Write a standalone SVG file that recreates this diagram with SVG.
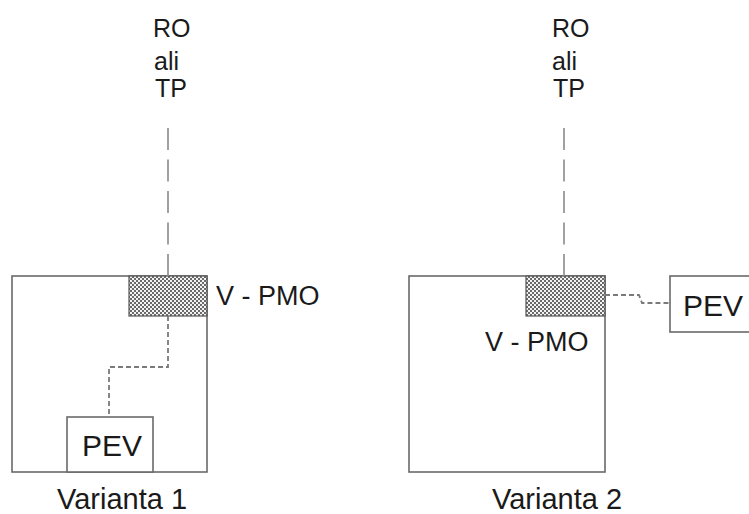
<svg xmlns="http://www.w3.org/2000/svg" width="749" height="514" viewBox="0 0 749 514">
  <defs>
    <!-- fine checker used for the V-PMO block -->
    <pattern id="checker" width="4" height="4" patternUnits="userSpaceOnUse">
      <rect width="4" height="4" fill="#f2f2f2"/>
      <rect width="2" height="2" fill="#6a6a6a"/>
      <rect x="2" y="2" width="2" height="2" fill="#6a6a6a"/>
    </pattern>
    <style>
      .box { fill: #fff; stroke: #6a6a6a; stroke-width: 1.6; }
      .pmo { fill: url(#checker); stroke: #555; stroke-width: 1.2; }
      .feed { fill: none; stroke: #8a8a8a; stroke-width: 1.6; stroke-dasharray: 22 9.5; }
      .link { fill: none; stroke: #7a7a7a; stroke-width: 1.8; stroke-dasharray: 5 3; }
      .lbl { font-family: "Liberation Sans", Arial, Helvetica, sans-serif; fill: #1a1a1a; }
      .src { font-size: 25px; }
      .pm { font-size: 27px; }
      .pev { font-size: 30px; }
      .cap { font-size: 29px; }
    </style>
  </defs>

  <!-- Variant 1 -->
  <g id="v1-building">
    <rect class="box" x="12" y="276" width="195" height="196"/>
  </g>
  <g id="v1-source">
    <text class="lbl src" x="153" y="37">RO</text>
    <text class="lbl src" x="154" y="70">ali</text>
    <text class="lbl src" x="155" y="97">TP</text>
  </g>
  <g id="v1-pev">
    <rect class="box" x="67" y="417" width="86" height="55"/>
    <text class="lbl pev" x="112" y="456" text-anchor="middle">PEV</text>
  </g>
  <g id="v1-pmo">
    <rect class="pmo" x="129" y="276" width="78" height="40"/>
    <text class="lbl pm" x="216" y="305">V - PMO</text>
  </g>
  <text class="lbl cap" x="122" y="509" text-anchor="middle">Varianta 1</text>

  <!-- Variant 2 -->
  <g id="v2-building">
    <rect class="box" x="409" y="276" width="196" height="196"/>
  </g>
  <g id="v2-source">
    <text class="lbl src" x="552" y="37">RO</text>
    <text class="lbl src" x="552" y="70">ali</text>
    <text class="lbl src" x="553" y="97">TP</text>
  </g>
  <g id="v2-pmo">
    <rect class="pmo" x="526" y="276" width="79" height="40"/>
    <text class="lbl pm" x="485" y="351">V - PMO</text>
  </g>
  <g id="v2-pev">
    <rect class="box" x="670" y="276" width="90" height="56"/>
    <text class="lbl pev" x="683" y="316">PEV</text>
  </g>
  <text class="lbl cap" x="557" y="509" text-anchor="middle">Varianta 2</text>

  <!-- connectors -->
  <g id="connectors">
    <path class="feed" d="M168 276 V127"/>
    <path class="link" d="M168 316 V367 H109 V417"/>
    <path class="feed" d="M564 276 V127"/>
    <path class="link" d="M605 295 H639 L642 303 H670"/>
  </g>
</svg>
